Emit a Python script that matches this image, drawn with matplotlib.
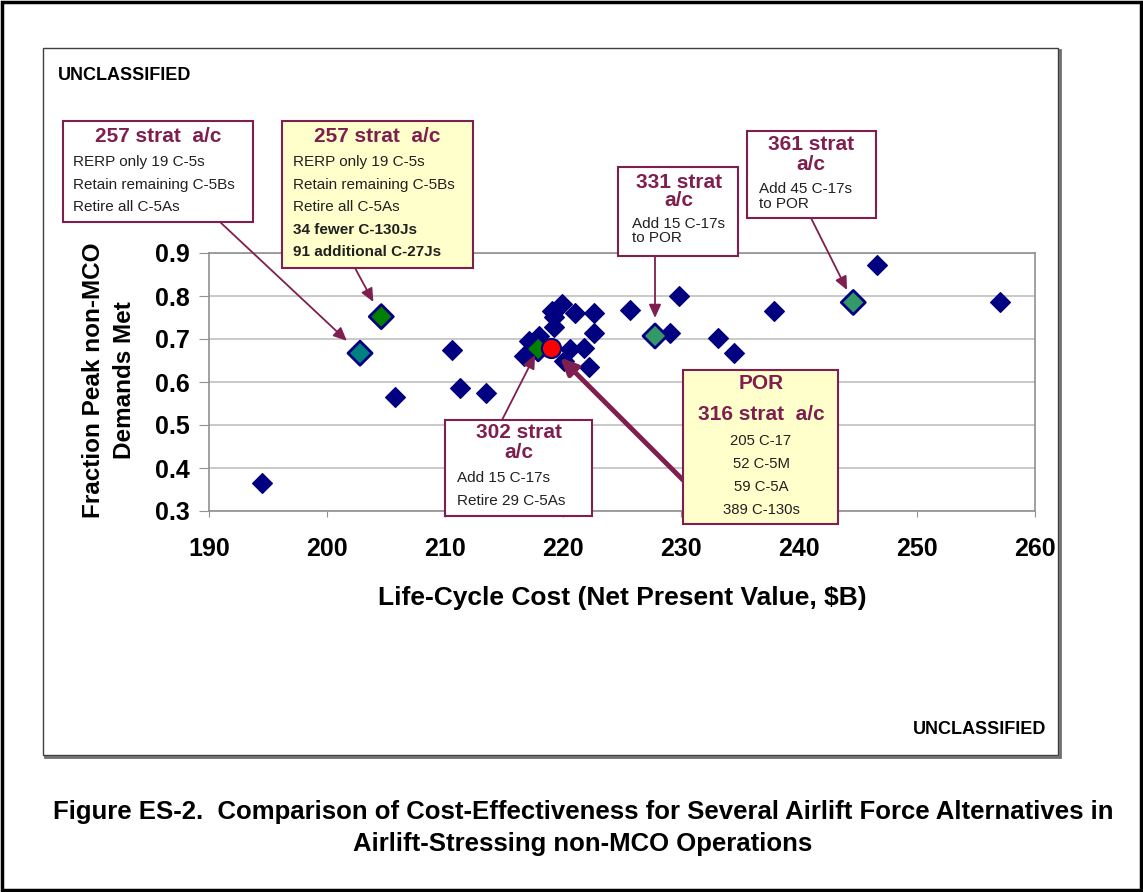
import matplotlib
matplotlib.use('Agg')
import matplotlib.pyplot as plt
from matplotlib.patches import Rectangle

plt.rcParams['font.family'] = ['Liberation Sans', 'DejaVu Sans']

# --- data -------------------------------------------------------------
cost = [194.5, 205.8, 210.6, 211.3, 213.5, 216.7, 217.1, 218.0, 219.1, 219.2,
        219.2, 219.9, 220.1, 220.6, 221.0, 221.8, 222.2, 222.6, 222.6, 225.7,
        229.1, 229.8, 233.1, 234.5, 237.9, 246.6, 257.0]
frac = [0.364, 0.564, 0.675, 0.585, 0.575, 0.660, 0.695, 0.708, 0.765, 0.750,
        0.727, 0.781, 0.648, 0.676, 0.760, 0.680, 0.635, 0.760, 0.714, 0.768,
        0.714, 0.800, 0.702, 0.667, 0.765, 0.871, 0.785]

# highlighted alternatives
hl_cost = [202.8, 204.6, 217.9, 227.8, 244.6]
hl_frac = [0.667, 0.752, 0.677, 0.707, 0.785]
hl_color = ['#008080', '#008000', '#008000', '#339966', '#339966']

por_cost, por_frac = 219.0, 0.678

xticks = [190, 200, 210, 220, 230, 240, 250, 260]
yticks = [0.3, 0.4, 0.5, 0.6, 0.7, 0.8, 0.9]

MAROON = '#7F1F4F'
NAVY = '#000080'
W, H = 1143, 892

fig = plt.figure(figsize=(W / 100, H / 100), dpi=100)


def fx(x):
    return x / W


def fy(y):
    return 1 - y / H


# page frame and chart frame (behind the axes)
fig.add_artist(Rectangle((fx(2), fy(890)), fx(1139), 888 / H, transform=fig.transFigure,
                         fill=False, edgecolor='black', lw=2.5, zorder=-10))
fig.add_artist(Rectangle((fx(45), fy(757)), fx(1015), 707 / H, transform=fig.transFigure,
                         fill=False, edgecolor='#707070', lw=2, zorder=-10))
fig.add_artist(Rectangle((fx(43), fy(755)), fx(1015), 707 / H, transform=fig.transFigure,
                         facecolor='white', edgecolor='#404040', lw=1, zorder=-9))

ax = fig.add_axes([fx(209), fy(511), fx(1035 - 209), (511 - 253) / H])
ax.set_xlim(190, 260)
ax.set_ylim(0.3, 0.9)
ax.set_xticks(xticks)
ax.set_yticks(yticks)
ax.set_yticklabels([f'{v:.1f}' for v in yticks])
ax.grid(axis='y', color='#C0C0C0', lw=1.2)
ax.set_axisbelow(True)
for s in ax.spines.values():
    s.set_color('#909090')
    s.set_linewidth(1.2)
ax.tick_params(axis='x', length=4, pad=15, color='#909090', labelsize=18)
ax.tick_params(axis='y', length=7, pad=7, color='#909090', labelsize=18)
for lbl in ax.get_xticklabels() + ax.get_yticklabels():
    lbl.set_fontweight('bold')

ax.scatter(cost, frac, marker='D', s=100, color=NAVY, zorder=3)
ax.scatter(hl_cost, hl_frac, marker='D', s=150, c=hl_color, edgecolors=NAVY,
           linewidths=2, zorder=4)
ax.scatter([por_cost], [por_frac], marker='o', s=190, color='#FF0000',
           edgecolors=NAVY, linewidths=1.5, zorder=5)

ax.set_xlabel('Life-Cycle Cost (Net Present Value, $B)', fontsize=19, fontweight='bold',
              labelpad=18)
fig.text(fx(109), fy(380), 'Fraction Peak non-MCO\nDemands Met', rotation=90,
         ha='center', va='center', fontsize=17.5, fontweight='bold', multialignment='center',
         linespacing=1.4)

fig.text(fx(58), fy(76), 'UNCLASSIFIED', fontsize=13, fontweight='bold', va='center')
fig.text(fx(980), fy(730), 'UNCLASSIFIED', fontsize=13, fontweight='bold',
         va='center', ha='center')
fig.text(fx(583), fy(828), 'Figure ES-2.  Comparison of Cost-Effectiveness for Several '
         'Airlift Force Alternatives in\nAirlift-Stressing non-MCO Operations',
         fontsize=18.5, fontweight='bold', ha='center', va='center', linespacing=1.45)


def box(x0, y0, x1, y1, face):
    fig.add_artist(Rectangle((fx(x0), fy(y1)), fx(x1 - x0), (y1 - y0) / H,
                             transform=fig.transFigure, facecolor=face,
                             edgecolor=MAROON, lw=1.5, zorder=6))


def txt(x, y, s, size=11, ha='left', bold=False, color='#202020'):
    fig.text(fx(x), fy(y), s, fontsize=size, ha=ha, va='center', color=color,
             fontweight='bold' if bold else 'normal', zorder=7)


def arrow(x0, y0, tx, ty, shrink, lw=1.3, head=8):
    ax.annotate('', xy=(tx, ty), xycoords='data',
                xytext=(fx(x0), fy(y0)), textcoords='figure fraction',
                arrowprops=dict(arrowstyle=f'-|>,head_length={head / 10},head_width={head / 22}',
                                color=MAROON, lw=lw, shrinkA=0, shrinkB=shrink),
                zorder=5, annotation_clip=False)


# box 1
box(63, 121, 253, 222, 'white')
txt(158, 136, '257 strat  a/c', 15, 'center', True, MAROON)
for i, s in enumerate(['RERP only 19 C-5s', 'Retain remaining C-5Bs', 'Retire all C-5As']):
    txt(73, 162 + 22.5 * i, s)
arrow(220, 222, hl_cost[0], hl_frac[0], 13)

# box 2
box(282, 121, 473, 268, '#FFFFCC')
txt(377, 136, '257 strat  a/c', 15, 'center', True, MAROON)
lines2 = ['RERP only 19 C-5s', 'Retain remaining C-5Bs', 'Retire all C-5As',
          '34 fewer C-130Js', '91 additional C-27Js']
for i, s in enumerate(lines2):
    txt(293, 162 + 22.6 * i, s, bold=i >= 3)
arrow(355, 268, hl_cost[1], hl_frac[1], 12)

# box 3
box(618, 167, 738, 256, 'white')
txt(679, 183, '331 strat', 15, 'center', True, MAROON)
txt(679, 201, 'a/c', 15, 'center', True, MAROON)
txt(632, 224, 'Add 15 C-17s')
txt(632, 238, 'to POR')
arrow(655, 256, hl_cost[3], hl_frac[3], 13)

# box 4
box(747, 131, 876, 218, 'white')
txt(811, 145, '361 strat', 15, 'center', True, MAROON)
txt(811, 164, 'a/c', 15, 'center', True, MAROON)
txt(759, 189, 'Add 45 C-17s')
txt(759, 204, 'to POR')
arrow(811, 218, hl_cost[4], hl_frac[4], 10)

# box 5
box(445, 420, 592, 516, 'white')
txt(519, 433, '302 strat', 15, 'center', True, MAROON)
txt(519, 452, 'a/c', 15, 'center', True, MAROON)
txt(457, 478, 'Add 15 C-17s')
txt(457, 501, 'Retire 29 C-5As')
arrow(502, 420, hl_cost[2], hl_frac[2], 5)

# box 6 (POR)
box(683, 370, 838, 524, '#FFFFCC')
txt(761, 383, 'POR', 15, 'center', True, MAROON)
txt(761, 415, '316 strat  a/c', 15, 'center', True, MAROON)
for i, s in enumerate(['205 C-17', '52 C-5M', '59 C-5A', '389 C-130s']):
    txt(761, 441 + 23 * i, s, 10.7, 'center')
arrow(683, 480, por_cost, por_frac, 9, lw=3.5, head=10)

fig.savefig('out.png', dpi=100)
